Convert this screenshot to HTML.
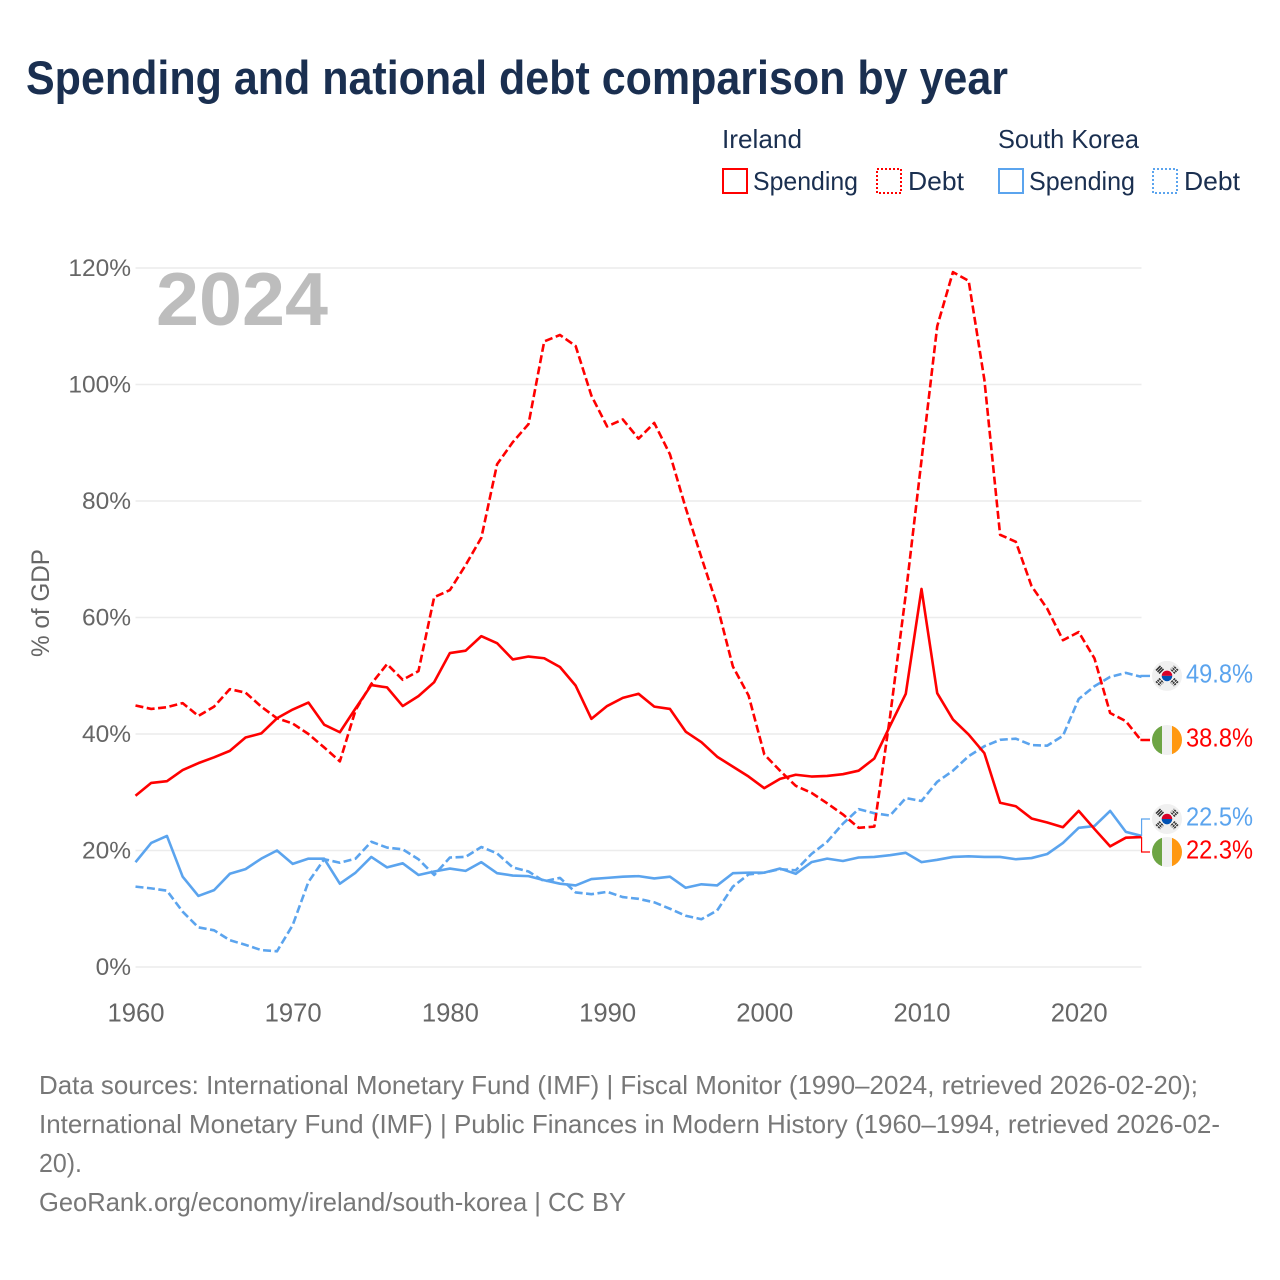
<!DOCTYPE html>
<html lang="en">
<head>
<meta charset="utf-8">
<title>Spending and national debt comparison by year</title>
<style>
  html, body { margin: 0; padding: 0; background: #fff; }
  svg { display: block; font-family: "Liberation Sans", sans-serif; }
</style>
</head>
<body>
<svg id="chart" xmlns="http://www.w3.org/2000/svg" width="1280" height="1280" viewBox="0 0 1280 1280">
  <defs>
    <clipPath id="flag-clip"><circle cx="0" cy="0" r="15"/></clipPath>
    <g id="flag-ie" clip-path="url(#flag-clip)">
      <rect x="-15" y="-15" width="30" height="30" fill="#f0f0f0"/>
      <rect x="-15" y="-15" width="10" height="30" fill="#6da544"/>
      <rect x="5" y="-15" width="10" height="30" fill="#ff9811"/>
    </g>
    <g id="flag-kr" clip-path="url(#flag-clip)">
      <rect x="-15" y="-15" width="30" height="30" fill="#f0f0f0"/>
      <path d="M-5.3,0 A5.3,5.3 0 0 1 5.3,0 Z" fill="#d80027"/>
      <path d="M-5.3,0 A5.3,5.3 0 0 0 5.3,0 Z" fill="#0052b4"/>
      <g stroke="#333" stroke-width="1.5" fill="none">
        <path d="M-11,-5.5 L-6.5,-10 M-9.5,-4 L-5,-8.5 M-8,-2.5 L-3.5,-7"/>
        <path d="M11,-5.5 L6.5,-10 M9.5,-4 L5,-8.5 M8,-2.5 L3.5,-7" stroke-dasharray="2.2 0.8"/>
        <path d="M-11,5.5 L-6.5,10 M-9.5,4 L-5,8.5 M-8,2.5 L-3.5,7" stroke-dasharray="2.2 0.8"/>
        <path d="M11,5.5 L6.5,10 M9.5,4 L5,8.5 M8,2.5 L3.5,7" stroke-dasharray="2.2 0.8"/>
      </g>
    </g>
  </defs>

  <rect x="0" y="0" width="1280" height="1280" fill="#ffffff"/>

  <text x="26" y="94" font-size="47" font-weight="700" fill="#1a2f50" textLength="982" lengthAdjust="spacingAndGlyphs">Spending and national debt comparison by year</text>

  <g font-size="26" fill="#1a2f50">
    <text x="722" y="148" textLength="80" lengthAdjust="spacingAndGlyphs">Ireland</text>
    <text x="998" y="148" textLength="141" lengthAdjust="spacingAndGlyphs">South Korea</text>

    <rect x="723" y="169" width="24" height="24" fill="none" stroke="#ff0000" stroke-width="2"/>
    <text x="753" y="190" textLength="105" lengthAdjust="spacingAndGlyphs">Spending</text>
    <rect x="877" y="169" width="24" height="24" fill="none" stroke="#ff0000" stroke-width="2" stroke-dasharray="2 2"/>
    <text x="908" y="190" textLength="56" lengthAdjust="spacingAndGlyphs">Debt</text>

    <rect x="999" y="169" width="24" height="24" fill="none" stroke="#5ba4ee" stroke-width="2"/>
    <text x="1029" y="190" textLength="106" lengthAdjust="spacingAndGlyphs">Spending</text>
    <rect x="1153" y="169" width="24" height="24" fill="none" stroke="#5ba4ee" stroke-width="2" stroke-dasharray="2 2"/>
    <text x="1184" y="190" textLength="56" lengthAdjust="spacingAndGlyphs">Debt</text>
  </g>

  <g id="grid"></g>
  <g id="y-axis"></g>
  <g id="x-axis"></g>

  <text id="year-label" x="156" y="325" font-size="75" font-weight="700" fill="#bdbdbd" textLength="172" lengthAdjust="spacingAndGlyphs">2024</text>

  <text transform="translate(49,603) rotate(-90)" text-anchor="middle" font-size="25" fill="#666666" textLength="108" lengthAdjust="spacingAndGlyphs">% of GDP</text>

  <g id="series"></g>
  <g id="end-labels"></g>

  <g font-size="26" fill="#777777">
    <text x="39" y="1094" textLength="1159" lengthAdjust="spacingAndGlyphs">Data sources: International Monetary Fund (IMF) | Fiscal Monitor (1990–2024, retrieved 2026-02-20);</text>
    <text x="39" y="1133" textLength="1181" lengthAdjust="spacingAndGlyphs">International Monetary Fund (IMF) | Public Finances in Modern History (1960–1994, retrieved 2026-02-</text>
    <text x="39" y="1172" textLength="43" lengthAdjust="spacingAndGlyphs">20).</text>
    <text x="39" y="1211" textLength="587" lengthAdjust="spacingAndGlyphs">GeoRank.org/economy/ireland/south-korea | CC BY</text>
  </g>
</svg>

<script>
const years = [1960,1961,1962,1963,1964,1965,1966,1967,1968,1969,
  1970,1971,1972,1973,1974,1975,1976,1977,1978,1979,
  1980,1981,1982,1983,1984,1985,1986,1987,1988,1989,
  1990,1991,1992,1993,1994,1995,1996,1997,1998,1999,
  2000,2001,2002,2003,2004,2005,2006,2007,2008,2009,
  2010,2011,2012,2013,2014,2015,2016,2017,2018,2019,
  2020,2021,2022,2023,2024];

const irelandSpending = [29.4,31.6,31.9,33.8,35.0,36.0,37.1,39.4,40.1,42.7,
  44.2,45.4,41.6,40.3,44.4,48.4,48.0,44.8,46.5,48.9,
  53.9,54.3,56.8,55.6,52.8,53.3,53.0,51.5,48.3,42.6,
  44.8,46.2,46.9,44.7,44.3,40.4,38.6,36.1,34.4,32.7,
  30.7,32.3,33.0,32.7,32.8,33.1,33.7,35.8,41.4,46.9,
  64.9,47.0,42.5,39.9,36.7,28.2,27.6,25.5,24.8,24.0,
  26.8,23.7,20.7,22.2,22.3];

const irelandDebt = [44.9,44.3,44.6,45.3,43.1,44.7,47.7,47.1,44.7,42.7,
  41.8,40.0,37.7,35.3,44.1,48.6,52.0,49.3,50.8,63.5,
  64.7,69.0,73.7,86.3,90.1,93.2,107.4,108.5,106.6,98.1,
  92.8,94.0,90.7,93.4,88.0,78.8,70.3,62.1,51.6,46.6,
  36.5,33.7,31.1,29.9,28.1,26.2,23.9,24.1,43.0,64.0,
  87.0,110.0,119.3,117.8,100.8,74.2,73.0,65.4,61.5,56.1,
  57.5,53.0,43.6,42.2,38.8];

const koreaSpending = [18.0,21.3,22.5,15.5,12.2,13.2,16.0,16.8,18.6,20.0,
  17.7,18.6,18.6,14.3,16.2,18.9,17.1,17.8,15.8,16.4,
  16.9,16.5,18.0,16.1,15.7,15.6,14.9,14.3,14.0,15.1,
  15.3,15.5,15.6,15.2,15.5,13.6,14.2,14.0,16.1,16.2,
  16.2,16.9,16.0,18.0,18.6,18.2,18.8,18.9,19.2,19.6,
  18.0,18.4,18.9,19.0,18.9,18.9,18.5,18.7,19.4,21.3,
  23.9,24.2,26.8,23.2,22.5];

const koreaDebt = [13.8,13.5,13.1,9.5,6.8,6.3,4.6,3.8,2.9,2.7,
  7.2,14.6,18.5,17.9,18.6,21.5,20.5,20.2,18.5,15.8,
  18.8,18.9,20.6,19.5,17.1,16.4,14.7,15.3,12.8,12.5,
  12.9,12.0,11.7,11.1,10.0,8.8,8.2,9.7,13.8,15.9,
  16.2,16.8,16.6,19.4,21.5,24.6,27.1,26.4,26.0,29.0,
  28.5,31.8,33.7,36.2,37.9,39.0,39.2,38.1,38.0,39.7,
  46.0,48.2,49.8,50.5,49.8];

const yTicks = [0,20,40,60,80,100,120];
const xTicks = [1960,1970,1980,1990,2000,2010,2020];

const NS = 'http://www.w3.org/2000/svg';
const RED = '#ff0000';
const BLUE = '#5ba4ee';

function xScale(year) { return 135.5 + (year - 1960) * 15.72; }
function yScale(value) { return 967 - value * 5.825; }

function make(tag, attrs, parent, content) {
  const el = document.createElementNS(NS, tag);
  for (const k in attrs) el.setAttribute(k, attrs[k]);
  if (content !== undefined) el.textContent = content;
  parent.appendChild(el);
  return el;
}

const gridG = document.getElementById('grid');
const yAxisG = document.getElementById('y-axis');
const xAxisG = document.getElementById('x-axis');
const seriesG = document.getElementById('series');
const endG = document.getElementById('end-labels');

yTicks.forEach(function (t) {
  const line = make('line', { x1: 135.5, x2: 1141.5, y1: yScale(t), y2: yScale(t), stroke: '#ececec', 'stroke-width': 1.5 }, gridG);
  
  
  const label = make('text', { x: 131, y: yScale(t) + 8, 'text-anchor': 'end', 'font-size': 24.5, fill: '#666666' }, yAxisG, t + '%');
  
  
});

xTicks.forEach(function (t) {
  const label = make('text', { x: xScale(t) + 0.5, y: 1021.5, 'text-anchor': 'middle', 'font-size': 25.5, fill: '#666666', textLength: 57, lengthAdjust: 'spacingAndGlyphs' }, xAxisG, String(t));
  
  
});

function linePath(values) {
  return values.map(function (v, i) {
    return (i ? 'L' : 'M') + xScale(years[i]).toFixed(2) + ',' + yScale(v).toFixed(2);
  }).join(' ');
}

function drawSeries(values, color, dashed) {
  const attrs = { d: linePath(values), fill: 'none', stroke: color, 'stroke-width': 2.6, 'stroke-linejoin': 'round' };
  if (dashed) attrs['stroke-dasharray'] = '8 3.5';
  return make('path', attrs, seriesG);
}

const koreaDebtLine = drawSeries(koreaDebt, BLUE, true);



const koreaSpendingLine = drawSeries(koreaSpending, BLUE, false);



const irelandDebtLine = drawSeries(irelandDebt, RED, true);



const irelandSpendingLine = drawSeries(irelandSpending, RED, false);



/* End-of-line labels: positions follow the last value of each series,
   pushed apart when two would collide. */
const ends = [
  { key: 'south-korea-debt', values: koreaDebt, color: BLUE, flag: '#flag-kr' },
  { key: 'ireland-debt', values: irelandDebt, color: RED, flag: '#flag-ie' },
  { key: 'south-korea-spending', values: koreaSpending, color: BLUE, flag: '#flag-kr' },
  { key: 'ireland-spending', values: irelandSpending, color: RED, flag: '#flag-ie' }
];

ends.forEach(function (e) {
  e.value = e.values[e.values.length - 1];
  e.lineY = yScale(e.value);
  e.labelY = e.lineY - 1;
});
ends.sort(function (a, b) { return b.value - a.value; });
const MIN_GAP = 33;
for (let i = 1; i < ends.length; i++) {
  const gap = ends[i].labelY - ends[i - 1].labelY;
  if (gap < MIN_GAP) {
    const shift = (MIN_GAP - gap) / 2;
    ends[i - 1].labelY -= shift;
    ends[i].labelY += shift;
  }
}

const endX = xScale(years[years.length - 1]);

ends.forEach(function (e) {
  const leader = make('polyline', {
    points: endX + ',' + e.lineY + ' ' + endX + ',' + e.labelY + ' 1150,' + e.labelY,
    fill: 'none', stroke: e.color, 'stroke-width': Math.abs(e.labelY - e.lineY) > 5 ? 1.2 : 2.4
  }, endG);
  
  

  const flag = make('use', { href: e.flag, transform: 'translate(1167,' + e.labelY + ')' }, endG);
  
  

  const label = make('text', { x: 1186, y: e.labelY + 6.5, 'font-size': 26, fill: e.color, textLength: 67, lengthAdjust: 'spacingAndGlyphs' }, endG, e.value.toFixed(1) + '%');
  
  
});
</script>
</body>
</html>
